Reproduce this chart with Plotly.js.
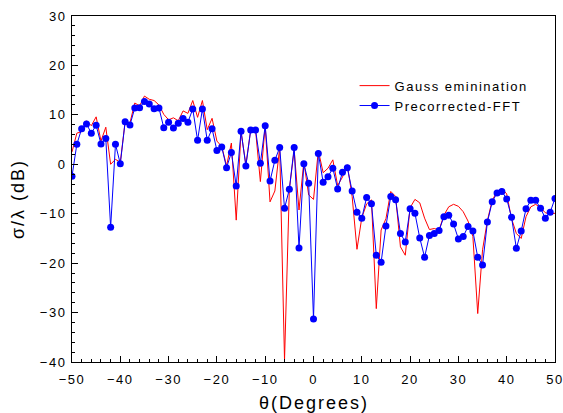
<!DOCTYPE html>
<html>
<head>
<meta charset="utf-8">
<script src="https://cdn.plot.ly/plotly-3.0.1.min.js"></script>
<style>
  html, body { margin: 0; padding: 0; background: #ffffff; }
  #chart { width: 563px; height: 413px; }
  #chart .xtick text, #chart .ytick text { letter-spacing: 1.5px; }
  text.legendtext { letter-spacing: 1.5px; }
  #chart text.annotation-text { letter-spacing: 2px; }
</style>
</head>
<body>
<div id="chart"></div>
<script>
// Angles (degrees)
const theta = [-50,-49,-48,-47,-46,-45,-44,-43,-42,-41,-40,-39,-38,-37,-36,-35,-34,-33,-32,-31,
  -30,-29,-28,-27,-26,-25,-24,-23,-22,-21,-20,-19,-18,-17,-16,-15,-14,-13,-12,-11,
  -10,-9,-8,-7,-6,-5,-4,-3,-2,-1,0,1,2,3,4,5,6,7,8,9,
  10,11,12,13,14,15,16,17,18,19,20,21,22,23,24,25,26,27,28,29,
  30,31,32,33,34,35,36,37,38,39,40,41,42,43,44,45,46,47,48,49,50];

// Gauss elimination (red line), dB
const gaussRCS = [2.5,6.3,6.6,8.8,7.8,9.6,4.7,7.5,0.0,1.0,0.4,8.6,8.4,12.4,11.8,13.8,13.15,12.9,12.0,10.1,
  9.0,9.4,8.8,10.8,10.3,12.9,9.5,12.9,7.0,9.3,4.7,3.6,-0.3,4.3,-11.3,6.6,-0.1,6.95,6.95,-3.5,
  7.8,-7.6,-5.4,3.4,-39.6,-5.05,2.9,-9.25,0.5,-6.2,-7.1,2.75,-1.7,-0.8,0.9,-4.3,-2.6,-0.1,-6.5,-17.2,
  -10.8,-8.0,-7.2,-29.2,-13.3,-11.0,-5.5,-6.5,-16.7,-18.4,-8.8,-7.1,-7.8,-10.9,-13.2,-13.0,-13.3,-10.3,-8.6,-8.1,
  -8.5,-9.6,-11.5,-14.6,-30.2,-17.3,-11.4,-7.3,-5.5,-4.9,-6.0,-11.0,-14.0,-15.0,-10.6,-8.6,-8.1,-8.8,-9.8,-10.1,-9.9];

// Precorrected-FFT (blue line with markers), dB
const pfftRCS = [-2.4,4.05,7.2,8.15,6.3,7.9,4.1,5.2,-12.75,4.05,0.1,8.6,7.95,11.4,11.45,12.7,12.2,11.25,11.4,7.4,
  8.5,7.35,8.3,9.25,8.5,11.2,4.85,11.2,4.85,7.2,2.8,3.5,-0.7,2.4,-4.4,6.7,-0.35,6.95,6.95,0.2,
  7.8,-3.4,0.8,3.4,-8.9,-5.05,3.4,-16.95,0.1,-3.85,-31.3,2.2,-3.65,-2.5,-0.8,-5.0,-1.6,-0.7,-5.4,-9.7,
  -10.9,-6.7,-8.0,-18.4,-19.8,-12.5,-6.5,-7.2,-14.0,-15.7,-9.0,-9.9,-14.9,-18.8,-14.4,-14.0,-13.4,-10.6,-10.3,-12.1,
  -15.1,-14.6,-12.6,-13.5,-18.8,-20.4,-11.7,-7.6,-5.8,-5.5,-7.0,-10.7,-17.0,-13.5,-9.0,-7.3,-7.3,-8.9,-10.9,-9.7,-6.9];

const seriesNames = ['Gauss eminination', 'Precorrected-FFT'];
const xTitle = 'θ(Degrees)';
const yTitle = 'σ/λ (dB)';

const FONT = 'Liberation Sans, Arial, Helvetica, sans-serif';

const traces = [
  {
    x: theta, y: gaussRCS, name: seriesNames[0],
    type: 'scatter', mode: 'lines',
    line: { color: '#ff0000', width: 1 }
  },
  {
    x: theta, y: pfftRCS, name: seriesNames[1],
    type: 'scatter', mode: 'lines+markers',
    line: { color: '#0000ff', width: 1 },
    marker: { color: '#0000ff', size: 7 }
  }
];

const axisCommon = {
  showline: true, mirror: true, linecolor: '#000', linewidth: 1,
  showgrid: false, zeroline: false,
  ticks: 'inside', ticklen: 6, tickwidth: 1, tickcolor: '#000',
  tickfont: { family: FONT, size: 13, color: '#000' },
  minor: { ticks: 'inside', ticklen: 3, tickwidth: 1, tickcolor: '#000', showgrid: false }
};

const layout = {
  width: 563, height: 413,
  margin: { l: 72, r: 8, t: 16, b: 51 },
  paper_bgcolor: '#fff', plot_bgcolor: '#fff',
  font: { family: FONT, color: '#000' },
  showlegend: true,
  legend: {
    x: 0.585, y: 0.842, xanchor: 'left', yanchor: 'top',
    bgcolor: 'rgba(0,0,0,0)', borderwidth: 0,
    font: { family: FONT, size: 13, color: '#000' },
    tracegroupgap: 0
  },
  xaxis: Object.assign({}, axisCommon, {
    range: [-50, 50], tickmode: 'linear', tick0: -50, dtick: 10,
    ticklabelstandoff: 5,
    minor: Object.assign({}, axisCommon.minor, { dtick: 2, tick0: -50 })
  }),
  yaxis: Object.assign({}, axisCommon, {
    range: [-40, 30], tickmode: 'linear', tick0: -40, dtick: 10,
    ticklabelstandoff: 2,
    minor: Object.assign({}, axisCommon.minor, { dtick: 2, tick0: -40 })
  }),
  annotations: [
    {
      text: xTitle, xref: 'paper', yref: 'paper', x: 0.502, y: -0.1185,
      xanchor: 'center', yanchor: 'middle', showarrow: false,
      font: { family: FONT, size: 18, color: '#000' }
    },
    {
      text: yTitle, xref: 'paper', yref: 'paper', x: -0.1118, y: 0.471,
      xanchor: 'center', yanchor: 'middle', showarrow: false, textangle: -90,
      font: { family: FONT, size: 18, color: '#000' }
    }
  ]
};

Plotly.newPlot('chart', traces, layout, { staticPlot: true, displayModeBar: false });
</script>
</body>
</html>
